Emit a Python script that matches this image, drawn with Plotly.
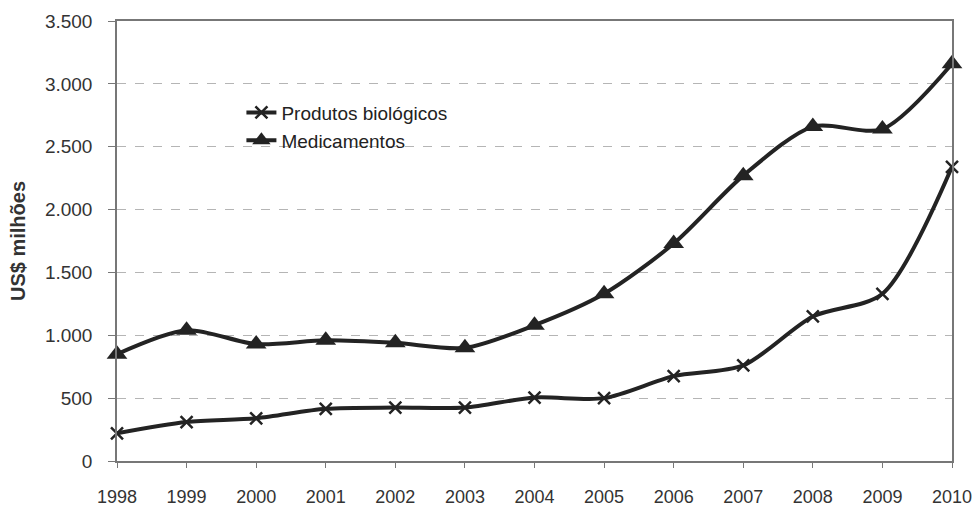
import plotly.graph_objects as go

years = [1998, 1999, 2000, 2001, 2002, 2003, 2004, 2005, 2006, 2007, 2008, 2009, 2010]
biologicos = [220, 310, 340, 415, 425, 425, 505, 500, 675, 760, 1150, 1330, 2340]
medicamentos = [850, 1040, 930, 960, 940, 900, 1080, 1330, 1730, 2270, 2660, 2640, 3160]
y_ticks = [0, 500, 1000, 1500, 2000, 2500, 3000, 3500]

ink = "#232323"
fig = go.Figure()
fig.add_trace(go.Scatter(
    x=years, y=biologicos, name="Produtos biológicos", mode="lines+markers",
    line=dict(color=ink, width=4, shape="spline", smoothing=0.8),
    marker=dict(symbol="x-thin", size=12, line=dict(color=ink, width=2.5), color=ink),
    cliponaxis=False,
))
fig.add_trace(go.Scatter(
    x=years, y=medicamentos, name="Medicamentos", mode="lines+markers",
    line=dict(color=ink, width=4, shape="spline", smoothing=0.8),
    marker=dict(symbol="triangle-up", size=18, color=ink),
    cliponaxis=False,
))

fig.update_layout(
    width=973, height=506,
    margin=dict(l=117, r=21, t=21, b=45),
    paper_bgcolor="white", plot_bgcolor="white",
    separators=",.",
    font=dict(family="Liberation Sans, Arial, sans-serif", size=19, color="#333"),
    showlegend=True,
    legend=dict(x=0.149, y=0.835, xanchor="left", yanchor="top",
                bgcolor="rgba(0,0,0,0)", font=dict(size=19, color="#222"),
                tracegroupgap=0, itemwidth=30),
)
fig.update_xaxes(
    range=[1998, 2010], tickmode="array", tickvals=years, ticktext=[str(y) for y in years],
    showgrid=False, showline=True, linecolor="#777", linewidth=1.5, mirror=True,
    ticks="outside", ticklen=5, tickcolor="#777", ticklabelstandoff=14, zeroline=False,
    automargin=False, tickfont=dict(size=18),
)
fig.update_yaxes(
    range=[0, 3500], tickvals=y_ticks, tickformat=",d",
    showgrid=True, gridcolor="#b5b5b5", griddash="dash", gridwidth=1,
    showline=True, linecolor="#777", linewidth=1.5, mirror=True,
    ticks="outside", ticklen=7, tickcolor="#777", ticklabelstandoff=12, zeroline=False,
    automargin=False, tickfont=dict(size=19),
    title=dict(text="<b>US$ milhões</b>", font=dict(size=20, color="#333"), standoff=14),
)
fig.write_html("out.html")
